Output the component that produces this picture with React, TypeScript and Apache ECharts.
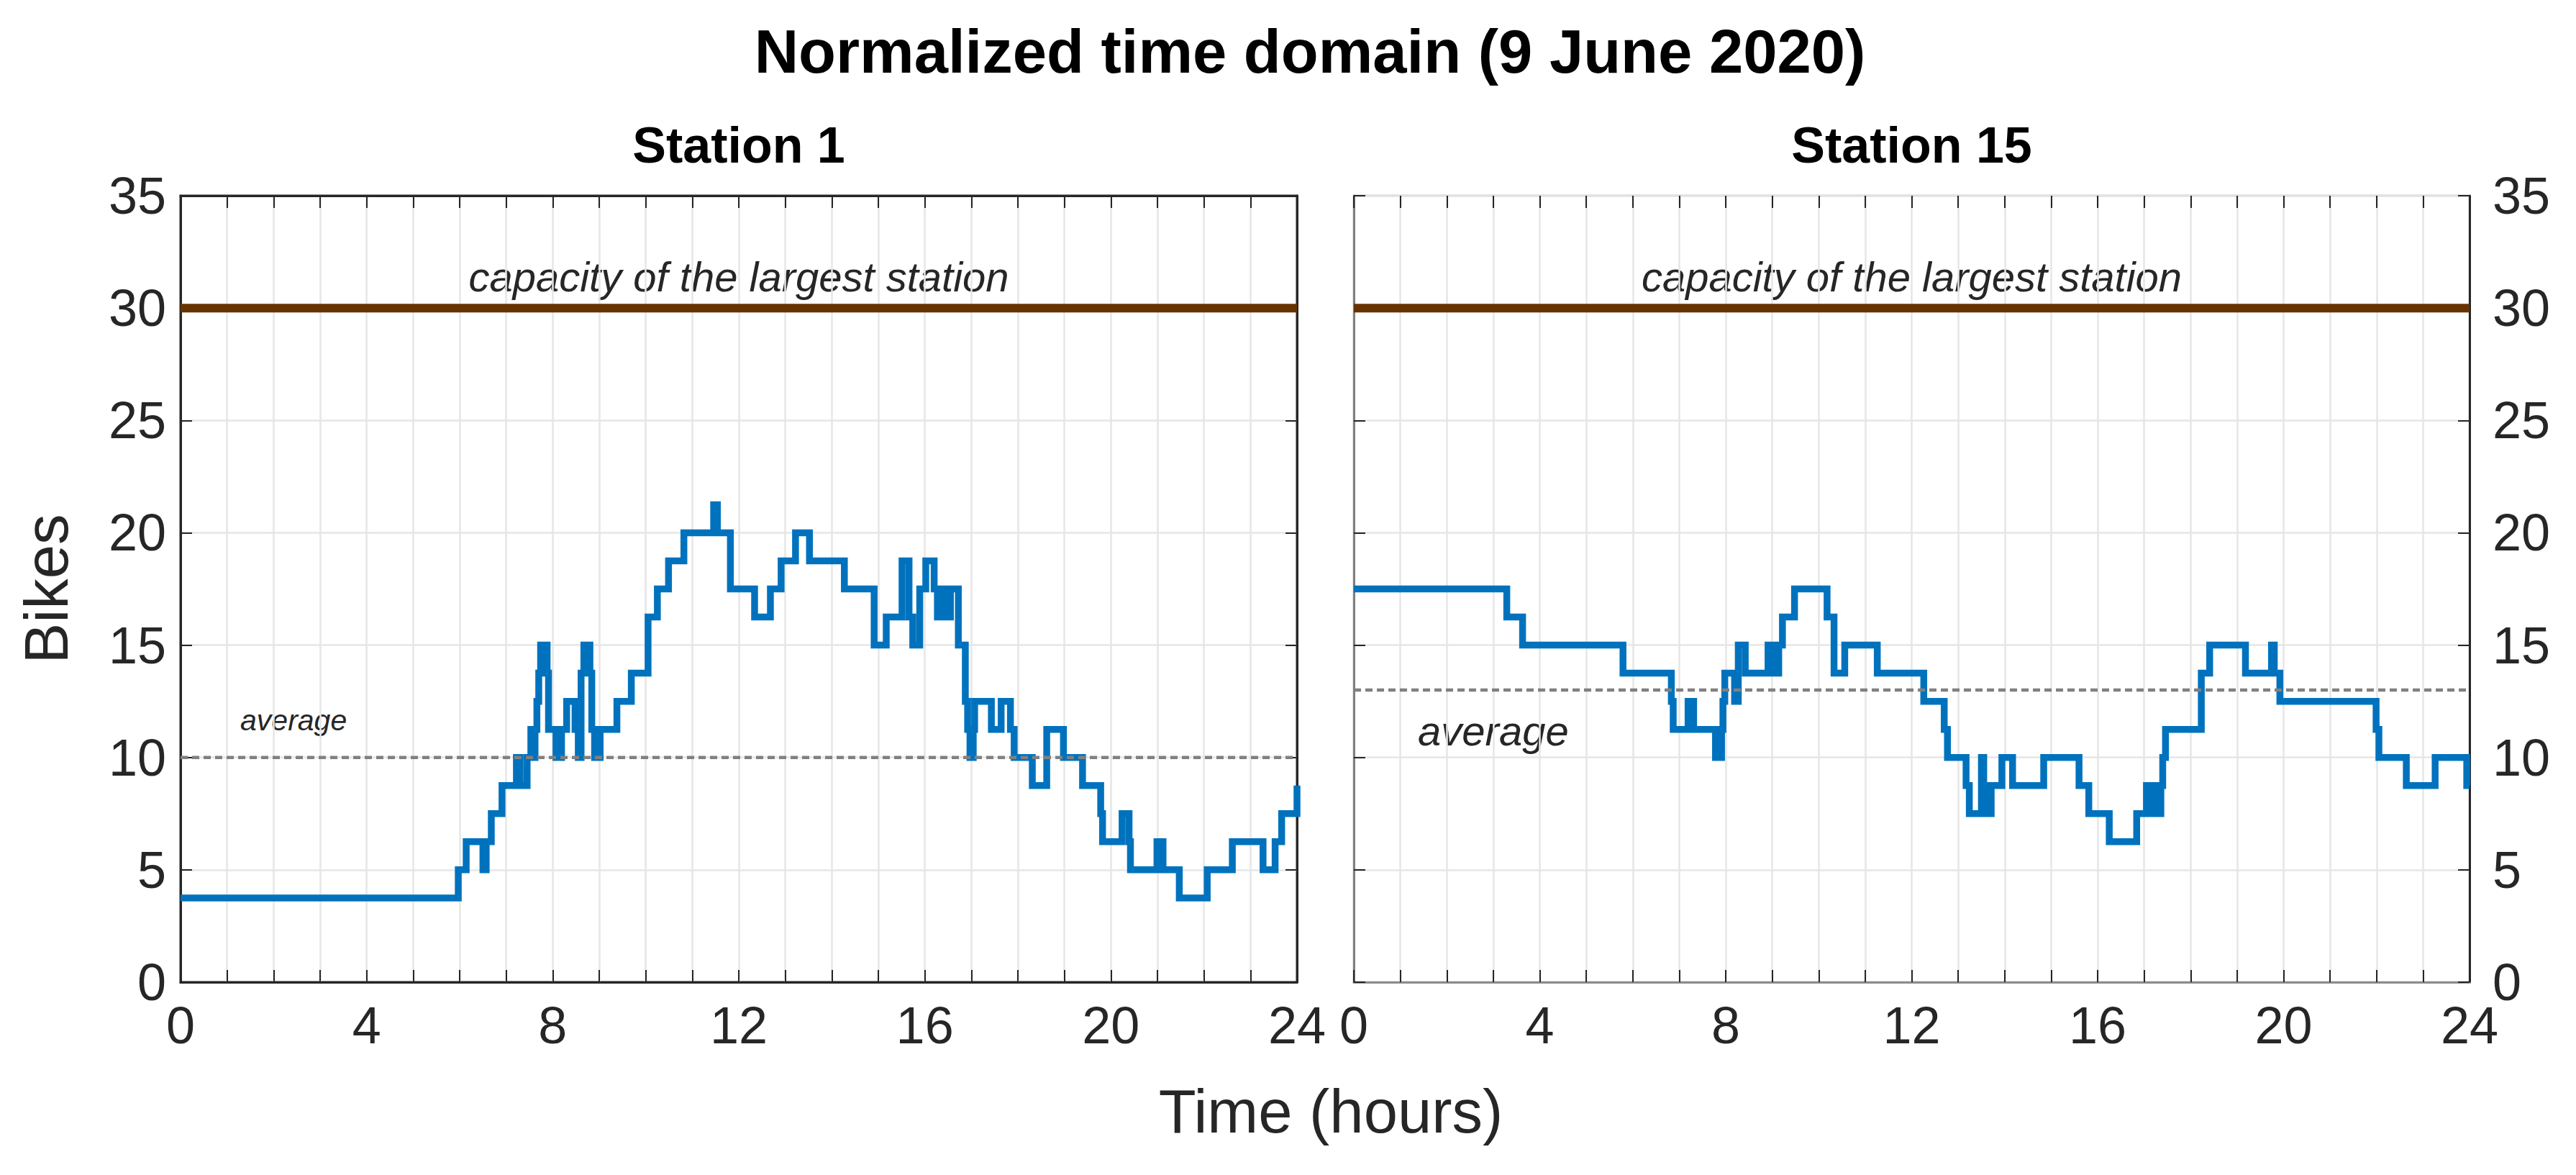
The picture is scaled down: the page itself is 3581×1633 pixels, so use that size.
import React, { useEffect, useRef } from "react";
import * as echarts from "echarts";

// ---------- data (hours of change, normalized bikes after change) ----------
const S1_HOURS = [
  0, 5.97, 6.14, 6.5, 6.57, 6.68, 6.91, 7.22, 7.3, 7.45, 7.53, 7.58, 7.62, 7.66, 7.7, 7.74, 7.88, 7.91,
  8.07, 8.19, 8.3, 8.48, 8.55, 8.61, 8.67, 8.8, 8.84, 8.9, 9.02, 9.38, 9.69, 10.05, 10.25, 10.49, 10.82,
  11.46, 11.54, 11.82, 12.34, 12.68, 12.91, 13.22, 13.52, 14.27, 14.91, 15.17, 15.51, 15.66, 15.74,
  15.89, 16.02, 16.2, 16.27, 16.36, 16.45, 16.55, 16.72, 16.87, 16.92, 16.97, 17.04, 17.07, 17.43,
  17.64, 17.84, 17.92, 18.31, 18.62, 18.98, 19.39, 19.78, 19.82, 20.24, 20.39, 20.42, 20.99, 21.12,
  21.47, 22.07, 22.61, 23.27, 23.53, 23.67, 24.0,
];
const S1_BIKES = [
  3.75, 5, 6.25, 5, 6.25, 7.5, 8.75, 10, 8.75, 10, 11.25, 10, 11.25, 12.5, 13.75, 15, 13.75, 11.25,
  10, 11.25, 12.5, 11.25, 10, 13.75, 15, 13.75, 11.25, 10, 11.25, 12.5, 13.75, 16.25, 17.5, 18.75, 20,
  21.25, 20, 17.5, 16.25, 17.5, 18.75, 20, 18.75, 17.5, 15, 16.25, 18.75, 16.25, 15,
  17.5, 18.75, 17.5, 16.25, 17.5, 16.25, 17.5, 15, 12.5, 11.25, 10, 11.25, 12.5, 11.25,
  12.5, 11.25, 10, 8.75, 11.25, 10, 8.75, 7.5, 6.25, 7.5, 6.25, 5, 6.25, 5,
  3.75, 5, 6.25, 5, 6.25, 7.5, 8.75,
];

const S15_HOURS = [
  0, 3.29, 3.63, 5.79, 6.83, 6.87, 7.19, 7.31, 7.78, 7.91, 7.94, 7.98, 8.19, 8.27, 8.42, 8.91, 9.01,
  9.14, 9.22, 9.48, 10.18, 10.33, 10.56, 11.26, 12.26, 12.7, 12.77, 13.17, 13.24, 13.5, 13.55, 13.6,
  13.71, 13.94, 14.17, 14.84, 15.6, 15.81, 16.25, 16.84, 17.05, 17.1, 17.22, 17.3, 17.36, 17.4, 17.46,
  18.23, 18.41, 19.18, 19.74, 19.8, 19.92, 21.99, 22.05, 22.64, 23.26, 23.94, 24.0,
];
const S15_BIKES = [
  17.5, 16.25, 15, 13.75, 12.5, 11.25, 12.5, 11.25, 10, 11.25, 12.5, 13.75, 12.5, 15, 13.75, 15, 13.75,
  15, 16.25, 17.5, 16.25, 13.75, 15, 13.75, 12.5, 11.25, 10, 8.75, 7.5, 10, 8.75, 7.5,
  8.75, 10, 8.75, 10, 8.75, 7.5, 6.25, 7.5, 8.75, 7.5, 8.75, 7.5, 8.75, 10, 11.25,
  13.75, 15, 13.75, 15, 13.75, 12.5, 11.25, 10, 8.75, 10, 8.75, 8.75,
];

const CAPACITY = 30;
const AVERAGE_S1 = 10;
const AVERAGE_S15 = 13;

const X_MIN = 0;
const X_MAX = 24;
const X_STEP = 4;
const Y_MIN = 0;
const Y_MAX = 35;
const Y_STEP = 5;

const TITLE = "Normalized time domain (9 June 2020)";
const PANEL_TITLES = ["Station 1", "Station 15"];
const X_NAME = "Time (hours)";
const Y_NAME = "Bikes";
const CAPACITY_TEXT = "capacity of the largest station";
const AVERAGE_TEXT = "average";
// annotation anchors in data units (hours)
const AVERAGE_TEXT_HOUR = [2.43, 3.0];
const CAPACITY_TEXT_HOUR = [12, 12];

// ---------- styles ----------
const FONT = '"Liberation Sans", Arial, Helvetica, sans-serif';
const W = 3581;
const H = 1633;
const GRIDS = [
  { left: 251, top: 272, width: 1552, height: 1093 },
  { left: 1882, top: 272, width: 1551, height: 1093 },
];
const AXIS_DARK = "#262626";
const GRID_COLOR = "#e6e6e6";

function pairs(xs: number[], ys: number[]) {
  return xs.map((x, i) => [x, ys[i]]);
}

function xAxis(gridIndex: number, position: string, main: boolean, lineColor: string, showLine = true) {
  return {
    type: "value",
    gridIndex,
    position,
    min: X_MIN,
    max: X_MAX,
    interval: X_STEP,
    axisLine: { show: showLine, onZero: false, lineStyle: { color: lineColor, width: 3 } },
    axisTick: { show: true, inside: true, length: 17, lineStyle: { color: AXIS_DARK, width: 2 } },
    minorTick: { show: true, splitNumber: 4, length: 17, lineStyle: { color: AXIS_DARK, width: 2 } },
    splitLine: { show: main, lineStyle: { color: GRID_COLOR, width: 2.5 } },
    minorSplitLine: { show: main, lineStyle: { color: GRID_COLOR, width: 2.5 } },
    axisLabel: {
      show: main,
      fontSize: 72,
      color: AXIS_DARK,
      fontFamily: FONT,
      margin: 24,
      showMinLabel: true,
      showMaxLabel: true,
    },
  };
}

function yAxis(gridIndex: number, position: string, main: boolean, lineColor: string, margin: number) {
  return {
    type: "value",
    gridIndex,
    position,
    min: Y_MIN,
    max: Y_MAX,
    interval: Y_STEP,
    axisLine: { show: true, onZero: false, lineStyle: { color: lineColor, width: 3 } },
    axisTick: { show: true, inside: true, length: 16, lineStyle: { color: AXIS_DARK, width: 2 } },
    splitLine: { show: main, lineStyle: { color: GRID_COLOR, width: 2.5 } },
    axisLabel: {
      show: main,
      fontSize: 72,
      color: AXIS_DARK,
      fontFamily: FONT,
      margin,
      showMinLabel: true,
      showMaxLabel: true,
    },
  };
}

function panelSeries(idx: number, data: number[][], avg: number) {
  return [
    {
      type: "line",
      xAxisIndex: idx * 2,
      yAxisIndex: idx * 2,
      data: [
        [X_MIN, CAPACITY],
        [X_MAX, CAPACITY],
      ],
      symbol: "none",
      silent: true,
      lineStyle: { color: "#663300", width: 12 },
      z: 2,
    },
    {
      type: "line",
      name: PANEL_TITLES[idx],
      xAxisIndex: idx * 2,
      yAxisIndex: idx * 2,
      data,
      step: "end",
      symbol: "none",
      showSymbol: false,
      lineStyle: { color: "#0072BD", width: 9.5, join: "miter" },
      z: 3,
    },
    {
      type: "line",
      xAxisIndex: idx * 2,
      yAxisIndex: idx * 2,
      data: [
        [X_MIN, avg],
        [X_MAX, avg],
      ],
      symbol: "none",
      silent: true,
      lineStyle: { color: "#808080", width: 4.5, type: [10, 6] },
      z: 4,
    },
  ];
}

function textEl(text: string, x: number, y: number, size: number, extra: any = {}, rotation = 0) {
  return {
    type: "text",
    x,
    y,
    rotation,
    silent: true,
    style: {
      text,
      fontSize: size,
      fontFamily: FONT,
      fill: extra.fill || "#000000",
      fontWeight: extra.fontWeight || "normal",
      fontStyle: extra.fontStyle || "normal",
      align: "center",
      verticalAlign: "middle",
    },
  };
}

export default function App() {
  const ref = useRef<HTMLDivElement>(null);

  useEffect(() => {
    document.body.style.margin = "0";
    document.body.style.overflow = "hidden";
    if (!ref.current) return;
    const chart = echarts.init(ref.current, undefined, { renderer: "svg" });

    const titleGraphics = [
      textEl(TITLE, 1821, 71, 85, { fontWeight: "bold" }),
      textEl(PANEL_TITLES[0], GRIDS[0].left + GRIDS[0].width / 2, 202, 70, { fontWeight: "bold" }),
      textEl(PANEL_TITLES[1], GRIDS[1].left + GRIDS[1].width / 2, 202, 70, { fontWeight: "bold" }),
      textEl(X_NAME, 1850, 1544, 85, { fill: AXIS_DARK }),
      textEl(Y_NAME, 64, GRIDS[0].top + GRIDS[0].height / 2, 85, { fill: AXIS_DARK }, Math.PI / 2),
    ];

    const option: any = {
      animation: false,
      backgroundColor: "#ffffff",
      grid: [
        { ...GRIDS[0], show: true, borderColor: AXIS_DARK, borderWidth: 3, containLabel: false },
        { ...GRIDS[1], show: true, borderColor: "#cccccc", borderWidth: 3, containLabel: false },
      ],
      xAxis: [
        xAxis(0, "bottom", true, AXIS_DARK),
        xAxis(0, "top", false, AXIS_DARK),
        xAxis(1, "bottom", true, "#8c8c8c"),
        xAxis(1, "top", false, "#cccccc", false),
      ],
      yAxis: [
        yAxis(0, "left", true, AXIS_DARK, 20),
        yAxis(0, "right", false, AXIS_DARK, 20),
        yAxis(1, "right", true, AXIS_DARK, 32),
        yAxis(1, "left", false, "#808080", 20),
      ],
      series: [
        ...panelSeries(0, pairs(S1_HOURS, S1_BIKES), AVERAGE_S1),
        ...panelSeries(1, pairs(S15_HOURS, S15_BIKES), AVERAGE_S15),
      ],
      graphic: titleGraphics,
    };
    chart.setOption(option);

    const anchors = [
      { g: 0, x: CAPACITY_TEXT_HOUR[0], y: CAPACITY, dy: -44, size: 58, text: CAPACITY_TEXT },
      { g: 1, x: CAPACITY_TEXT_HOUR[1], y: CAPACITY, dy: -44, size: 58, text: CAPACITY_TEXT },
      { g: 0, x: AVERAGE_TEXT_HOUR[0], y: AVERAGE_S1, dy: -52, size: 41, text: AVERAGE_TEXT },
      { g: 1, x: AVERAGE_TEXT_HOUR[1], y: AVERAGE_S15, dy: 56, size: 58, text: AVERAGE_TEXT },
    ];
    const annot = anchors.map((a) => {
      const p = chart.convertToPixel({ gridIndex: a.g } as any, [a.x, a.y]) as number[];
      return textEl(a.text, p[0], p[1] + a.dy, a.size, { fontStyle: "italic", fill: AXIS_DARK });
    });
    chart.setOption({ graphic: [...titleGraphics, ...annot] });

    return () => chart.dispose();
  }, []);

  return <div ref={ref} style={{ width: W, height: H }} />;
}
